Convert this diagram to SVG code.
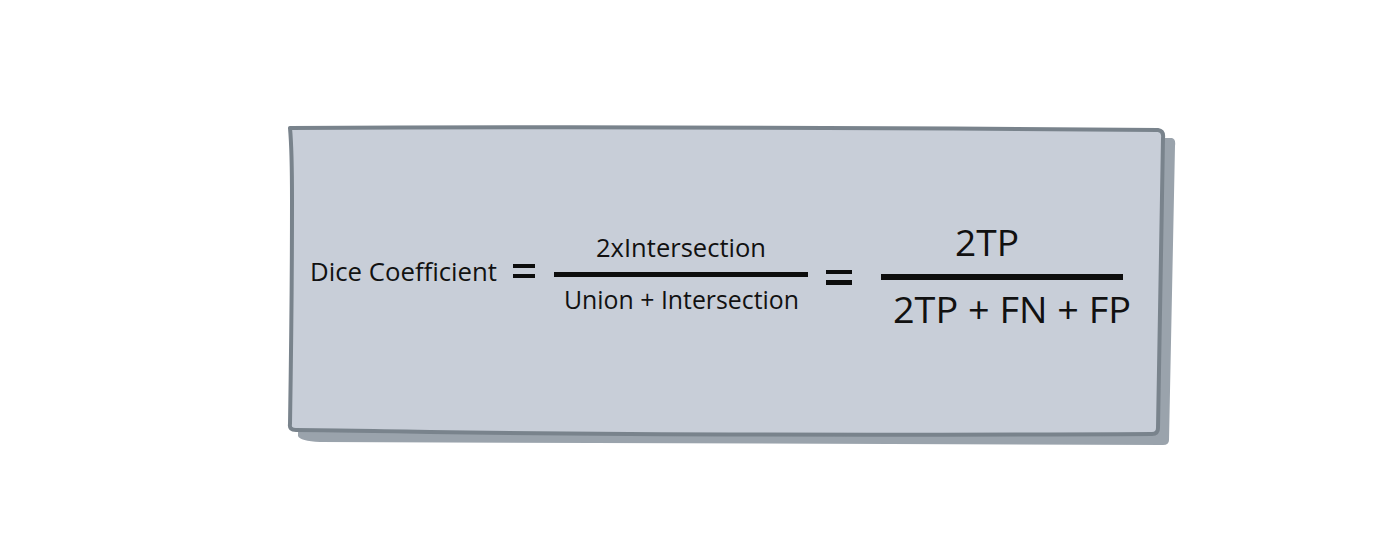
<svg xmlns="http://www.w3.org/2000/svg" width="1400" height="560" viewBox="0 0 1400 560">
<style>
.t{font-family:"Open Sans","Noto Sans","Liberation Sans",sans-serif;fill:#111;}
.s{font-size:25px;}
.b{font-size:37px;}
.bar{fill:#0d0d0d;}
</style>
<rect width="1400" height="560" fill="#fff"/>
<g id="card">
<path d="M300,140 L1172,138 Q1176,139 1175,146 L1169,440 Q1169,445 1163,445 L320,442 Q300,441 298,436 Z" fill="#9aa3ac"/>
<path d="M290,128 Q700,126 1158,130 Q1164,131 1163,138 Q1160,280 1158,428 Q1158,434 1152,434 Q700,436 430,432 Q330,430 296,430 Q289,430 290,424 Q292,300 292,200 Q292,150 290,128 Z" fill="#c8ced8" stroke="#79838c" stroke-width="4" stroke-linejoin="round"/>
</g>
<g id="lhs">
<text class="t s" x="310" y="281" textLength="187" lengthAdjust="spacingAndGlyphs">Dice Coefficient</text>
</g>
<g id="eq1">
<rect class="bar" x="513" y="264" width="22" height="4"/>
<rect class="bar" x="513" y="274" width="22" height="4"/>
</g>
<g id="frac1">
<text class="t s" x="596" y="257" textLength="170" lengthAdjust="spacingAndGlyphs">2xIntersection</text>
<rect class="bar" x="554" y="272" width="254" height="5"/>
<text class="t s" x="564" y="309" textLength="235" lengthAdjust="spacingAndGlyphs">Union + Intersection</text>
</g>
<g id="eq2">
<rect class="bar" x="826" y="270" width="26" height="4"/>
<rect class="bar" x="826" y="280" width="26" height="5"/>
</g>
<g id="frac2">
<text class="t b" x="955" y="256" textLength="64" lengthAdjust="spacingAndGlyphs">2TP</text>
<rect class="bar" x="881" y="274" width="242" height="6"/>
<text class="t b" x="893" y="323" textLength="238" lengthAdjust="spacingAndGlyphs">2TP + FN + FP</text>
</g>
<g id="connectors"/>
</svg>
